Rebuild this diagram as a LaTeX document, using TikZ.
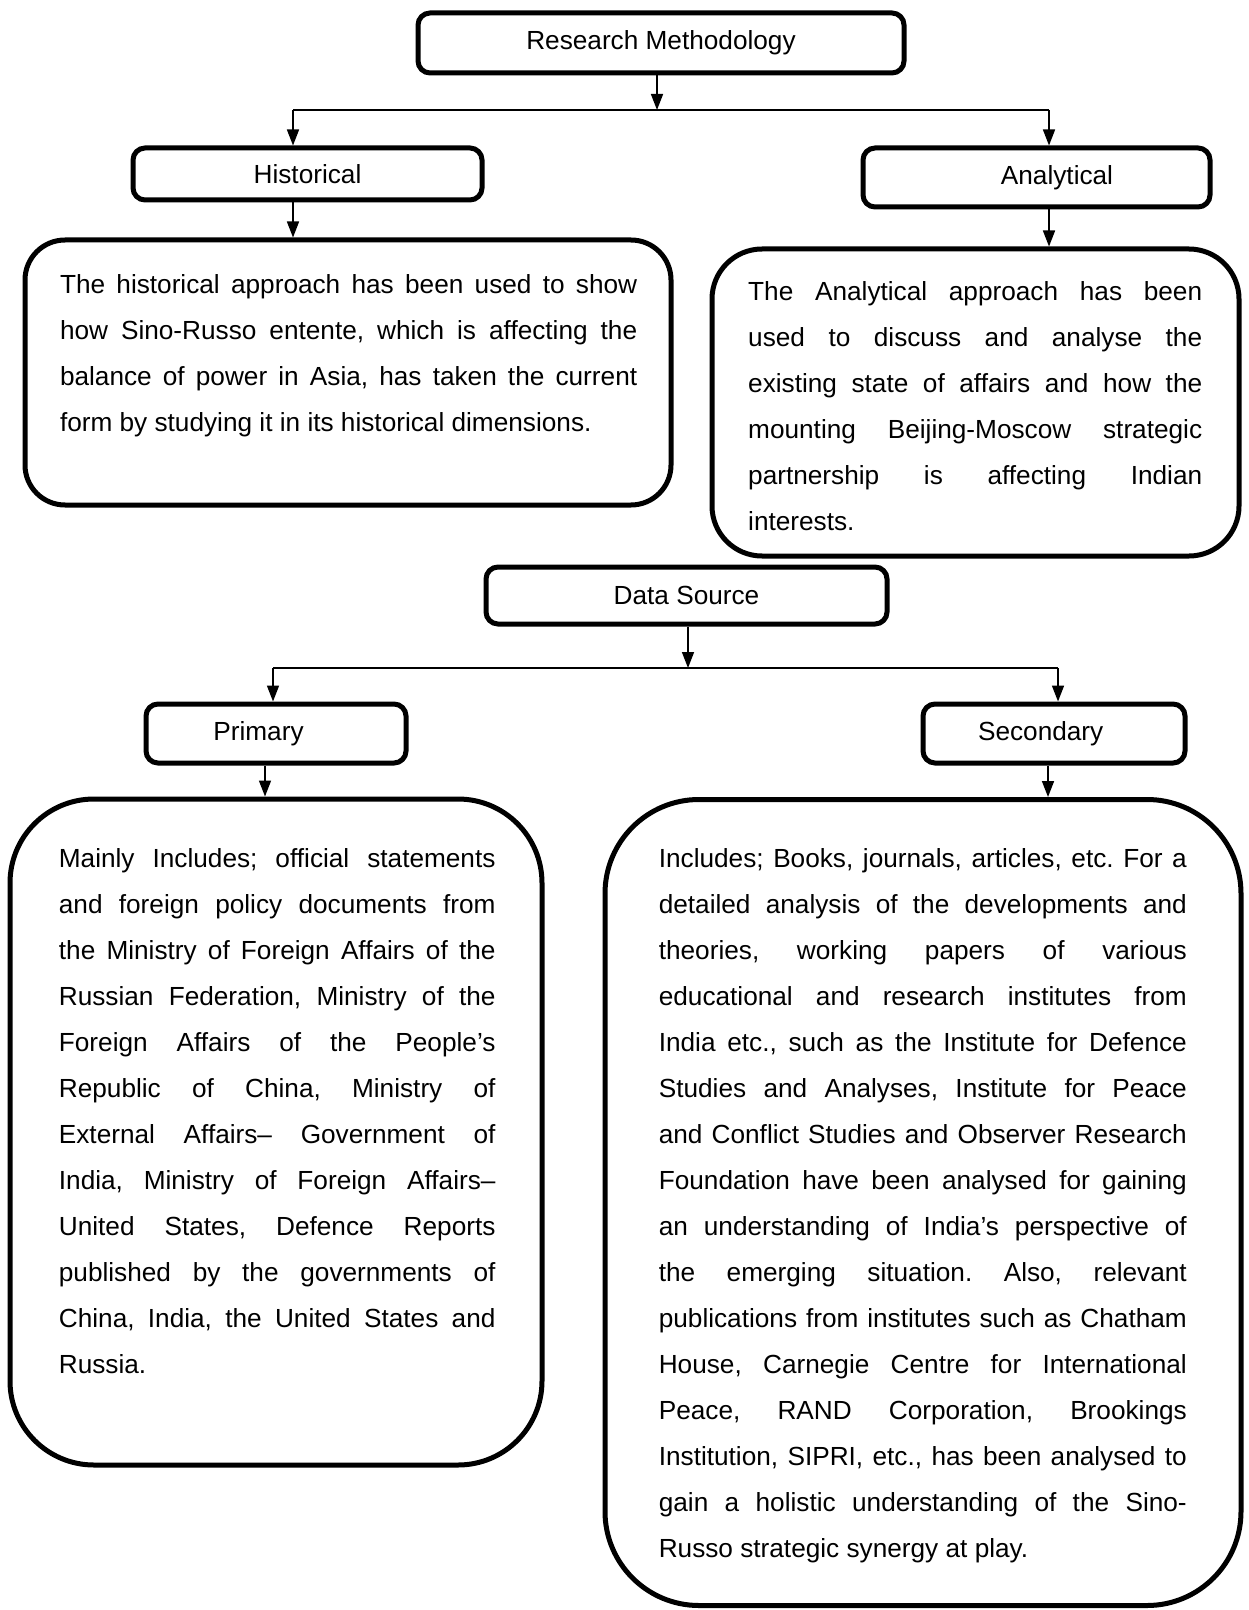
\documentclass[tikz,border=0pt]{standalone}
\usepackage{fontspec}
\setmainfont{Liberation Sans}
\usetikzlibrary{arrows.meta}

\newcommand{\bodyfont}{\fontsize{13.1}{23}\selectfont\frenchspacing\hyphenpenalty=10000\exhyphenpenalty=10000\tolerance=10000}

\tikzset{
    headbox/.style={draw, line width=2.5pt, rounded corners=6pt, inner sep=0pt, font=\bodyfont},
    textbox/.style={draw, line width=2.5pt, inner sep=0pt},
    para/.style={anchor=north west, inner sep=0pt, align=justify, font=\bodyfont},
    link/.style={line width=0.8pt, -{Triangle[length=8pt,width=6pt]}},
    bar/.style={line width=0.8pt}
}

\begin{document}
\begin{tikzpicture}[x=0.5pt, y=-0.5pt]
    \useasboundingbox (0,0) rectangle (1248,1610);

    % Research methodology and its two approaches
    \node[headbox, minimum width=243pt, minimum height=30pt] (rm) at (661,43) {Research Methodology};
    \node[headbox, minimum width=174.5pt, minimum height=26pt] (hist) at (307.5,174) {Historical};
    \node[headbox, minimum width=173.5pt, minimum height=29.5pt] (anal) at (1036.5,177.5) {\hspace*{20.5pt}Analytical};

    % Text boxes for the approaches
    \node[textbox, rounded corners=20pt, minimum width=323pt, minimum height=132.5pt] (histbox) at (348,372.5) {};
    \node[textbox, rounded corners=25pt, minimum width=263.5pt, minimum height=153.5pt] (analbox) at (975.5,402.5) {};

    \node[para, text width=288.6pt] (histtxt) at (59.6,274) {The historical approach has been used to show\linebreak
        how Sino-Russo entente, which is affecting the\linebreak
        balance of power in Asia, has taken the current\linebreak
        form by studying it in its historical dimensions.};
    \node[para, text width=227pt] (analtxt) at (747.8,281) {The Analytical approach has been\linebreak
        used to discuss and analyse the\linebreak
        existing state of affairs and how the\linebreak
        mounting Beijing-Moscow strategic\linebreak
        partnership is affecting Indian\linebreak
        interests.};

    % Data source and its two kinds
    \node[headbox, minimum width=200.5pt, minimum height=28.5pt] (ds) at (686.5,595.5) {Data Source};
    \node[headbox, minimum width=130pt, minimum height=29.5pt] (prim) at (276,733.5) {Primary\hspace*{17.5pt}};
    \node[headbox, minimum width=131pt, minimum height=29.5pt] (sec) at (1054,733.5) {Secondary\hspace*{13.3pt}};

    % Text boxes for the sources
    \node[textbox, rounded corners=42pt, minimum width=266pt, minimum height=333pt] (primbox) at (276,1132) {};
    \node[textbox, rounded corners=47pt, minimum width=318pt, minimum height=403pt] (secbox) at (923,1202.5) {};

    \node[para, text width=218.3pt] (primtxt) at (58.5,848) {Mainly Includes; official statements\linebreak
        and foreign policy documents from\linebreak
        the Ministry of Foreign Affairs of the\linebreak
        Russian Federation, Ministry of the\linebreak
        Foreign Affairs of the People’s\linebreak
        Republic of China, Ministry of\linebreak
        External Affairs– Government of\linebreak
        India, Ministry of Foreign Affairs–\linebreak
        United States, Defence Reports\linebreak
        published by the governments of\linebreak
        China, India, the United States and\linebreak
        Russia.};
    \node[para, text width=264pt] (sectxt) at (658.4,848) {Includes; Books, journals, articles, etc. For a\linebreak
        detailed analysis of the developments and\linebreak
        theories, working papers of various\linebreak
        educational and research institutes from\linebreak
        India etc., such as the Institute for Defence\linebreak
        Studies and Analyses, Institute for Peace\linebreak
        and Conflict Studies and Observer Research\linebreak
        Foundation have been analysed for gaining\linebreak
        an understanding of India’s perspective of\linebreak
        the emerging situation. Also, relevant\linebreak
        publications from institutes such as Chatham\linebreak
        House, Carnegie Centre for International\linebreak
        Peace, RAND Corporation, Brookings\linebreak
        Institution, SIPRI, etc., has been analysed to\linebreak
        gain a holistic understanding of the Sino-\linebreak
        Russo strategic synergy at play.};

    % Fork below Research Methodology
    \coordinate (fork1) at (657,110);
    \coordinate (fork1l) at (293,110);
    \coordinate (fork1r) at (1049,110);
    \draw[link] (rm.south -| fork1) -- (fork1);
    \draw[bar] (fork1l) -- (fork1r);
    \draw[link] (fork1l) -- (fork1l |- hist.north);
    \draw[link] (fork1r) -- (fork1r |- anal.north);
    \draw[link] (fork1l |- hist.south) -- (fork1l |- histbox.north);
    \draw[link] (fork1r |- anal.south) -- (fork1r |- analbox.north);

    % Fork below Data Source
    \coordinate (fork2) at (688,668);
    \coordinate (fork2l) at (273,668);
    \coordinate (fork2r) at (1058,668);
    \draw[link] (ds.south -| fork2) -- (fork2);
    \draw[bar] (fork2l) -- (fork2r);
    \draw[link] (fork2l) -- (fork2l |- prim.north);
    \draw[link] (fork2r) -- (fork2r |- sec.north);
    \draw[link] ([xshift=-5.5pt]prim.south) -- ([xshift=-5.5pt]prim.south |- primbox.north);
    \draw[link] ([xshift=-3pt]sec.south) -- ([xshift=-3pt]sec.south |- secbox.north);

\end{tikzpicture}
\end{document}
